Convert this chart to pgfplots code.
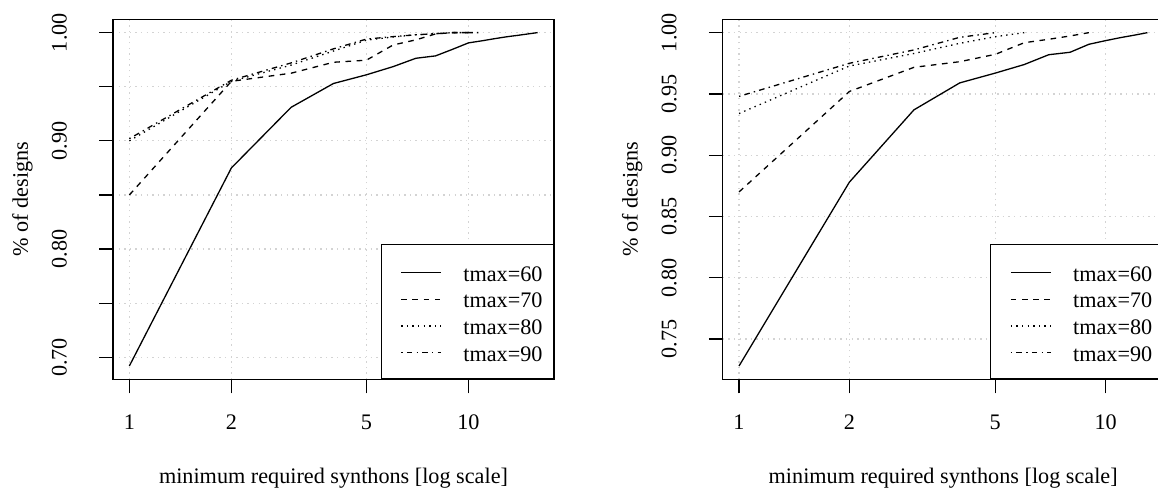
\documentclass[border=0pt]{standalone}
\usepackage{pgfplots}
\pgfplotsset{compat=1.18}
\usepackage{fontspec}
\setmainfont{Liberation Serif}
\definecolor{rgrid}{RGB}{211,211,211}
\pgfplotsset{
    scale only axis, width=220.5pt, height=180pt,
    xminorticks=false,
    xtick={1,2,5,10}, xticklabels={1,2,5,10},
    tick align=outside, xtick pos=bottom, ytick pos=left,
    major tick length=7pt,
    tick style={black, line width=0.6pt},
    axis line style={line width=0.6pt},
    grid=major, grid style={rgrid, line width=0.6pt, dash pattern=on 0.7pt off 2.1pt},
    xticklabel style={anchor=base, inner sep=0pt, yshift=-18.2pt},
    yticklabel style={xshift=-16.2pt, rotate=90, anchor=base, inner sep=0pt},
    every axis x label/.style={at={(rel axis cs:0.5,0)}, anchor=base, yshift=-51.85pt},
    every axis y label/.style={at={(rel axis cs:0,0.5)}, xshift=-42.5pt, rotate=90, anchor=base},
    legend style={at={(rel axis cs:1,0)}, anchor=south east, draw=black, line width=0.6pt,
      inner xsep=0pt, inner ysep=6.91pt, row sep=0pt,
      nodes={inner sep=0pt, text height=11.49pt, text depth=1.84pt, text width=45pt, align=left},
      /tikz/every odd column/.append style={column sep=10.8pt}},
    legend cell align=left,
    legend image code/.code={\path[draw=none] (0pt,0pt) -- (30pt,0pt); \draw[#1] (10pt,-0.5pt) -- (30pt,-0.5pt);},
    every axis plot/.append style={line width=0.65pt, black},
    l60/.style={solid},
    l70/.style={dash pattern=on 2.8pt off 2.8pt},
    l80/.style={dash pattern=on 0.7pt off 2.1pt},
    l90/.style={dash pattern=on 0.7pt off 2.1pt on 2.8pt off 2.1pt},
}
\begin{document}
\begin{tikzpicture}[font=\fontsize{11.1pt}{13.3pt}\selectfont]
\begin{semilogxaxis}[at={(56.5pt,54.85pt)}, anchor=south west,
  xlabel={minimum required synthons [log scale]},
  ylabel={\% of designs},
  xmin=0.895, xmax=17.88, ymin=0.6797, ymax=1.0123,
  ytick={0.70,0.75,0.80,0.85,0.90,0.95,1.00},
  yticklabels={0.70,,0.80,,0.90,,1.00}]
\addplot[l60] coordinates {(1,0.692)(2,0.875)(3,0.931)(4,0.953)(5,0.961)(6,0.9686)(7,0.9763)(8,0.9785)(9,0.9847)(10,0.9905)(11,0.9925)(12,0.9945)(13,0.9962)(14,0.9975)(15,0.9988)(16,1.0)};
\addlegendentry{tmax=60}
\addplot[l70] coordinates {(1,0.850)(2,0.955)(3,0.9625)(4,0.9726)(5,0.9745)(6,0.9886)(7,0.9933)(8,0.9988)(9,1.0)(10,1.0)};
\addlegendentry{tmax=70}
\addplot[l80] coordinates {(1,0.900)(2,0.955)(3,0.970)(4,0.983)(5,0.993)(6,0.996)(7,0.998)(8,0.999)(9,1.0)(10,1.0)};
\addlegendentry{tmax=80}
\addplot[l90] coordinates {(1,0.902)(2,0.956)(3,0.972)(4,0.985)(5,0.994)(6,0.9963)(7,0.998)(8,0.999)(9,1.0)(10,1.0)(11,1.0)};
\addlegendentry{tmax=90}
\end{semilogxaxis}
\begin{semilogxaxis}[at={(361.35pt,54.85pt)}, anchor=south west,
  xlabel={minimum required synthons [log scale]},
  ylabel={\% of designs},
  xmin=0.9025, xmax=14.4, ymin=0.7171, ymax=1.0109,
  ytick={0.75,0.80,0.85,0.90,0.95,1.00},
  yticklabels={0.75,0.80,0.85,0.90,0.95,1.00}]
\addplot[l60] coordinates {(1,0.728)(2,0.878)(3,0.937)(4,0.959)(5,0.967)(6,0.974)(7,0.982)(8,0.984)(9,0.9905)(10,0.9935)(11,0.996)(12,0.998)(13,1.0)};
\addlegendentry{tmax=60}
\addplot[l70] coordinates {(1,0.870)(2,0.952)(3,0.9717)(4,0.9763)(5,0.9823)(6,0.9918)(7,0.9946)(8,0.9973)(9,1.0)};
\addlegendentry{tmax=70}
\addplot[l80] coordinates {(1,0.934)(2,0.9728)(3,0.983)(4,0.9913)(5,0.9967)(6,1.0)};
\addlegendentry{tmax=80}
\addplot[l90] coordinates {(1,0.948)(2,0.975)(3,0.9859)(4,0.9962)(5,1.0)};
\addlegendentry{tmax=90}
\end{semilogxaxis}
\pgfresetboundingbox
\path[use as bounding box] (0,0) rectangle (579pt,244.5pt);
\end{tikzpicture}
\end{document}
